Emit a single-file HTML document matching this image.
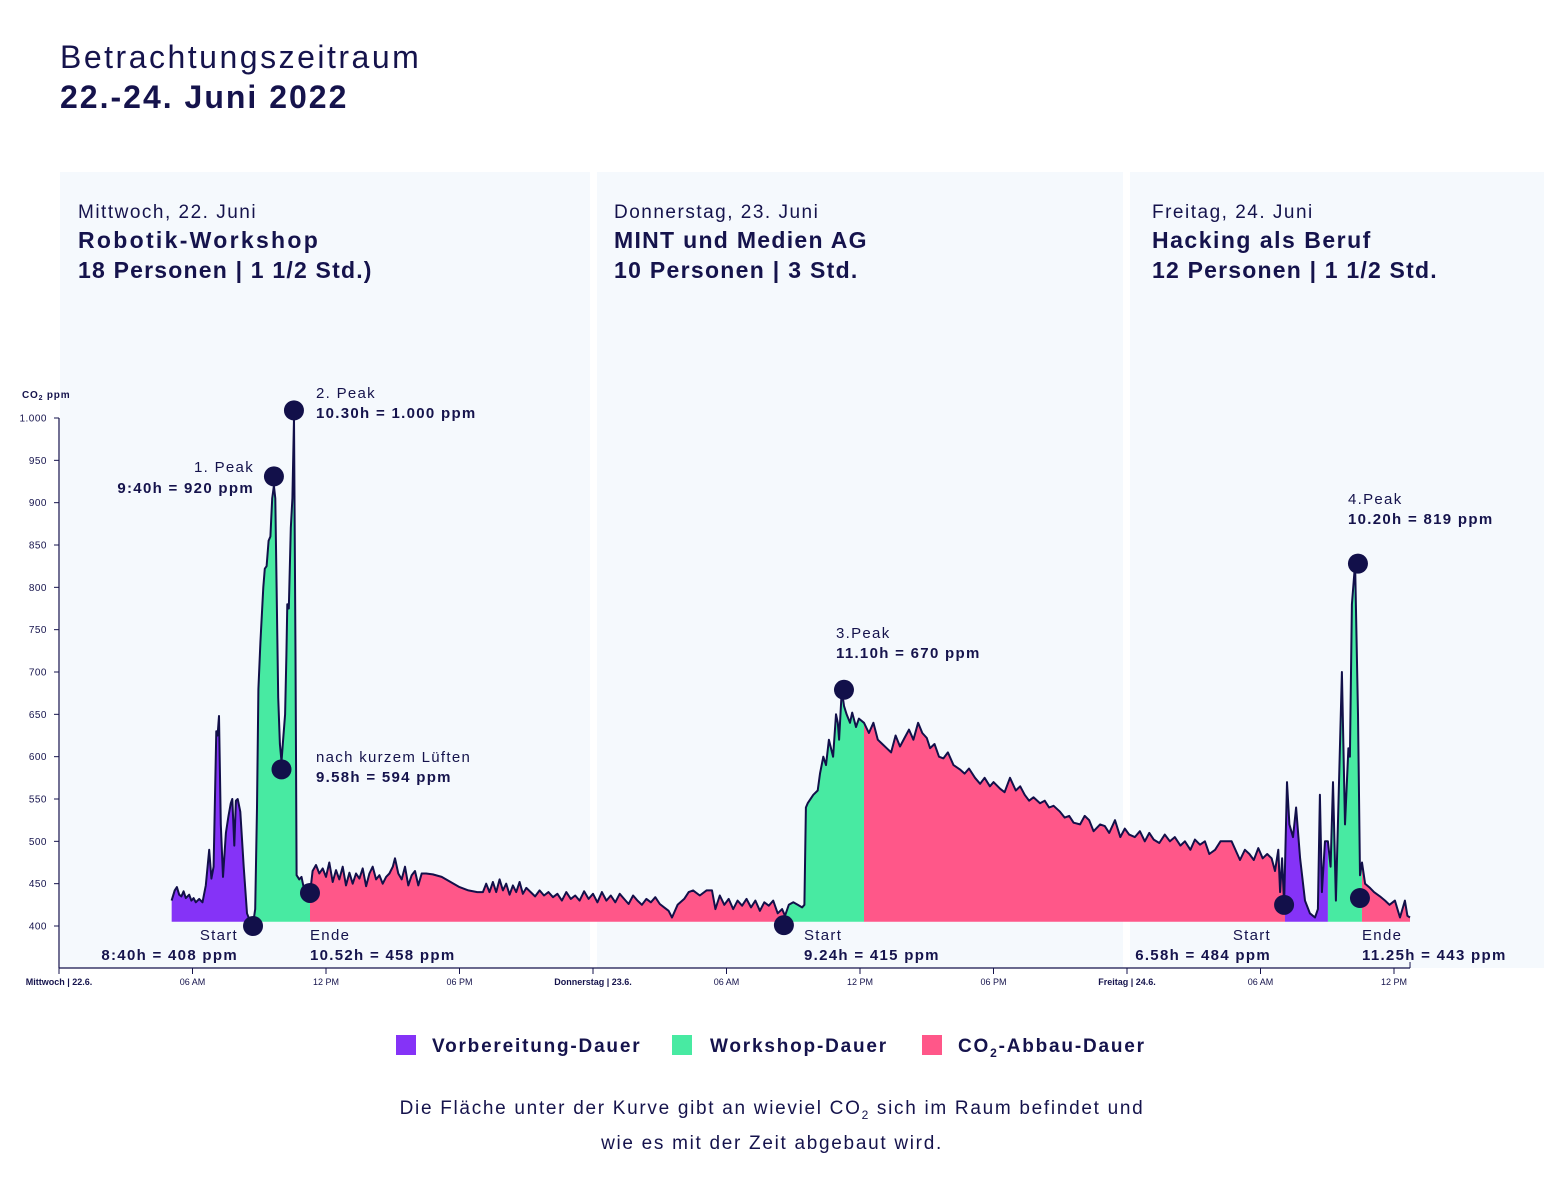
<!DOCTYPE html>
<html><head><meta charset="utf-8">
<style>
html,body{margin:0;padding:0;background:#fff;}
svg{display:block;font-family:"Liberation Sans","DejaVu Sans",sans-serif;}
</style></head>
<body>
<svg id="chart" width="1544" height="1200" viewBox="0 0 1544 1200" xmlns="http://www.w3.org/2000/svg">
  <rect x="0" y="0" width="1544" height="1200" fill="#ffffff"/>
  <text x="60" y="68" font-size="32" letter-spacing="2.5" fill="#15134c">Betrachtungszeitraum</text>
  <text x="60" y="108" font-size="32" letter-spacing="2" font-weight="bold" fill="#15134c">22.-24. Juni 2022</text>
  <rect x="60" y="172" width="530" height="796" fill="#f5f9fd"/>
  <rect x="597" y="172" width="526" height="796" fill="#f5f9fd"/>
  <rect x="1130" y="172" width="414" height="796" fill="#f5f9fd"/>
  <g fill="#15134c" letter-spacing="1.5">
    <text x="78" y="218" font-size="19">Mittwoch, 22. Juni</text>
    <text x="78" y="248" font-size="23" font-weight="bold" letter-spacing="2.3">Robotik-Workshop</text>
    <text x="78" y="278" font-size="23" font-weight="bold" letter-spacing="1.2">18 Personen | 1  1/2 Std.)</text>
    <text x="614" y="218" font-size="19">Donnerstag, 23. Juni</text>
    <text x="614" y="248" font-size="23" font-weight="bold" letter-spacing="1.3">MINT und Medien AG</text>
    <text x="614" y="278" font-size="23" font-weight="bold" letter-spacing="1.3">10 Personen | 3 Std.</text>
    <text x="1152" y="218" font-size="19">Freitag, 24. Juni</text>
    <text x="1152" y="248" font-size="23" font-weight="bold">Hacking als Beruf</text>
    <text x="1152" y="278" font-size="23" font-weight="bold" letter-spacing="1.2">12 Personen | 1  1/2 Std.</text>
  </g>
  <defs id="defs"></defs>
  <g id="areas"></g>
  <g id="axes"></g>
  <g id="marks"></g>
  <g fill="#15134c" font-size="15" letter-spacing="1.3">
    <text x="254" y="472" text-anchor="end">1. Peak</text>
    <text x="254" y="493" text-anchor="end" font-weight="bold">9:40h = 920 ppm</text>
    <text x="316" y="398">2. Peak</text>
    <text x="316" y="418" font-weight="bold">10.30h = 1.000 ppm</text>
    <text x="316" y="762">nach kurzem Lüften</text>
    <text x="316" y="782" font-weight="bold">9.58h = 594 ppm</text>
    <text x="238" y="940" text-anchor="end">Start</text>
    <text x="238" y="960" text-anchor="end" font-weight="bold">8:40h = 408 ppm</text>
    <text x="310" y="940">Ende</text>
    <text x="310" y="960" font-weight="bold">10.52h = 458 ppm</text>
    <text x="804" y="940">Start</text>
    <text x="804" y="960" font-weight="bold">9.24h = 415 ppm</text>
    <text x="836" y="638">3.Peak</text>
    <text x="836" y="658" font-weight="bold">11.10h = 670 ppm</text>
    <text x="1271" y="940" text-anchor="end">Start</text>
    <text x="1271" y="960" text-anchor="end" font-weight="bold">6.58h = 484 ppm</text>
    <text x="1362" y="940">Ende</text>
    <text x="1362" y="960" font-weight="bold">11.25h = 443 ppm</text>
    <text x="1348" y="504">4.Peak</text>
    <text x="1348" y="524" font-weight="bold">10.20h = 819 ppm</text>
  </g>
  <g fill="#15134c" font-size="19" font-weight="bold" letter-spacing="1.8">
    <rect x="396" y="1035" width="20" height="20" fill="#8533f7"/>
    <text x="432" y="1052">Vorbereitung-Dauer</text>
    <rect x="672" y="1035" width="20" height="20" fill="#48eaa2"/>
    <text x="710" y="1052">Workshop-Dauer</text>
    <rect x="922" y="1035" width="20" height="20" fill="#ff5789"/>
    <text x="958" y="1052">CO<tspan font-size="12" dy="5">2</tspan><tspan dy="-5">-Abbau-Dauer</tspan></text>
  </g>
  <g fill="#15134c" font-size="19" text-anchor="middle" letter-spacing="1.7">
    <text x="772" y="1114">Die Fläche unter der Kurve gibt an wieviel CO<tspan font-size="12" dy="5">2</tspan><tspan dy="-5"> sich im Raum befindet und</tspan></text>
    <text x="772" y="1149">wie es mit der Zeit abgebaut wird.</text>
  </g>
</svg>
<script>
// hours since Wed 22.6. 00:00 (rows of 10)
const hours = [
5.06,5.2,5.3,5.4,5.5,5.6,5.7,5.85,5.95,6.05,
6.15,6.3,6.45,6.6,6.75,6.85,6.95,7.07,7.13,7.19,
7.27,7.37,7.5,7.62,7.72,7.79,7.88,7.95,8.03,8.15,
8.3,8.45,8.6,8.72,8.82,8.9,8.96,9.05,9.18,9.25,
9.33,9.42,9.5,9.58,9.66,9.72,9.78,9.85,9.93,10.0,
10.06,10.16,10.22,10.26,10.33,10.42,10.49,10.56,10.63,10.68,
10.8,10.9,11.0,11.1,11.2,11.28,11.4,11.55,11.7,11.85,
12.0,12.15,12.3,12.45,12.6,12.75,12.9,13.05,13.2,13.35,
13.5,13.65,13.8,13.95,14.1,14.25,14.4,14.55,14.7,14.85,
15.0,15.1,15.25,15.4,15.55,15.7,15.85,16.0,16.15,16.3,
16.5,16.8,17.2,17.6,18.0,18.4,18.8,19.05,19.2,19.35,
19.5,19.65,19.8,19.95,20.1,20.25,20.4,20.55,20.7,20.85,
21.0,21.2,21.4,21.6,21.8,22.0,22.2,22.4,22.6,22.8,
23.0,23.2,23.4,23.6,23.8,24.0,24.2,24.4,24.6,24.8,
25.0,25.2,25.4,25.6,25.8,26.0,26.2,26.4,26.6,26.8,
27.0,27.2,27.4,27.55,27.8,28.1,28.3,28.5,28.8,29.1,
29.35,29.5,29.7,29.9,30.1,30.3,30.5,30.7,30.9,31.1,
31.3,31.5,31.7,31.9,32.1,32.3,32.5,32.63,32.8,33.0,
33.2,33.4,33.5,33.57,33.65,33.9,34.1,34.2,34.35,34.47,
34.6,34.79,34.92,35.0,35.06,35.18,35.28,35.4,35.55,35.65,
35.82,35.95,36.18,36.4,36.6,36.8,37.0,37.2,37.4,37.6,
37.8,38.0,38.2,38.4,38.61,38.8,39.0,39.15,39.35,39.55,
39.75,39.95,40.2,40.49,40.7,40.9,41.17,41.4,41.6,41.84,
42.0,42.3,42.5,42.74,43.0,43.2,43.4,43.6,43.8,44.09,
44.3,44.5,44.7,44.99,45.2,45.4,45.6,45.89,46.1,46.3,
46.5,46.79,47.0,47.2,47.46,47.7,47.9,48.1,48.35,48.58,
48.8,49.0,49.2,49.45,49.7,49.93,50.15,50.4,50.6,50.85,
51.05,51.28,51.5,51.7,51.96,52.2,52.4,52.7,53.08,53.3,
53.5,53.7,53.9,54.1,54.3,54.5,54.65,54.8,54.88,54.97,
55.06,55.19,55.3,55.46,55.6,55.78,56.0,56.22,56.45,56.58,
56.67,56.76,56.9,57.03,57.15,57.26,57.39,57.52,57.66,57.8,
57.95,58.02,58.11,58.25,58.38,58.47,58.56,58.7,58.92,59.1,
59.37,59.6,59.8,60.04,60.27,60.49,60.6,60.72];
const ppm = [
430,442,446,437,435,441,433,437,430,433,
428,432,428,448,490,456,470,630,625,648,
520,458,510,530,545,550,495,548,550,535,
470,415,405,402,420,540,680,735,800,822,
825,855,860,905,920,905,800,670,615,594,
615,650,720,780,775,870,905,1000,720,460,
455,458,445,448,440,438,465,472,462,468,
458,475,452,466,455,470,448,463,450,462,
456,468,447,462,470,455,460,450,458,462,
470,480,462,455,470,448,460,465,448,462,
462,461,458,452,446,442,440,440,450,440,
452,440,455,442,450,437,448,440,452,438,
445,440,435,442,436,440,434,438,430,440,
432,436,430,441,432,438,428,440,430,436,
428,438,432,426,436,430,425,432,428,434,
426,422,418,410,425,432,440,442,436,442,
442,420,436,425,432,420,430,424,432,422,
430,418,428,424,430,415,420,412,425,428,
425,422,425,540,545,555,560,580,600,590,
620,600,650,640,620,679,660,650,640,652,
635,645,640,628,640,620,615,610,605,625,
612,622,632,620,640,628,622,610,615,600,
598,605,590,585,580,586,575,568,575,565,
570,562,558,575,560,565,555,548,552,545,
548,540,542,535,528,530,522,520,530,525,
512,520,518,510,525,505,515,508,505,512,
500,510,502,498,508,500,505,495,500,490,
502,496,500,485,490,500,500,500,478,490,
485,478,492,480,485,480,465,490,440,480,
425,570,520,505,540,480,430,415,410,420,
555,440,500,500,470,570,430,560,700,520,
610,600,780,828,650,460,475,450,445,440,
435,430,425,430,410,430,412,410];
const dayBoundaries = [0,24,48];
const dayLabels = ["Mittwoch | 22.6.","Donnerstag | 23.6.","Freitag | 24.6."];
const hourTickValues = [6,12,18,30,36,42,54,60];
const hourTickLabels = ["06 AM","12 PM","06 PM","06 AM","12 PM","06 PM","06 AM","12 PM"];
const yTicks = [400,450,500,550,600,650,700,750,800,850,900,950,1000];
const yTickLabels = ["400","450","500","550","600","650","700","750","800","850","900","950","1.000"];
const segStart = [5.06,8.72,11.28,32.63,36.18,55.1,57.03,58.56];
const segEnd   = [8.72,11.28,32.63,36.18,55.1,57.03,58.56,60.72];
const segPhase = ["vorbereitung","workshop","abbau","workshop","abbau","vorbereitung","workshop","abbau"];
const markerHours = [8.72,9.66,10.56,10.0,11.28,32.58,35.28,55.06,58.38,58.47];
const markerPpm   = [400,931,1009,585,439,401,679,425,828,433];
const markerNames = ["marker-wed-start","marker-peak-1","marker-peak-2","marker-lueften","marker-wed-end","marker-thu-start","marker-peak-3","marker-fri-start","marker-peak-4","marker-fri-end"];

const NS="http://www.w3.org/2000/svg";
const X0=59, PXH=22.25, Y400=926, PXP=508/600;
function xs(h){return X0+h*PXH;}
function ys(v){return Y400-(v-400)*PXP;}
const colors={vorbereitung:"#8533f7",workshop:"#48eaa2",abbau:"#ff5789"};
function mk(tag,attrs,parent){const e=document.createElementNS(NS,tag);for(const k in attrs)e.setAttribute(k,attrs[k]);parent.appendChild(e);return e;}

const defs=document.getElementById('defs');
const areas=document.getElementById('areas');
const baseY=ys(405);
const n=Math.min(hours.length,ppm.length);
let line="";
for(let i=0;i<n;i++){line+=(i?"L":"M")+xs(hours[i]).toFixed(1)+","+ys(ppm[i]).toFixed(1);}
const areaD=line+"L"+xs(hours[n-1]).toFixed(1)+","+baseY+"L"+xs(hours[0]).toFixed(1)+","+baseY+"Z";
for(let s=0;s<segStart.length;s++){
  const cp=mk('clipPath',{id:'seg'+s},defs);
  mk('rect',{x:xs(segStart[s]),y:0,width:xs(segEnd[s])-xs(segStart[s]),height:1200},cp);
  const p=mk('path',{d:areaD,fill:colors[segPhase[s]],'clip-path':'url(#seg'+s+')'},areas);
  
  
}
const ln=mk('path',{d:line,fill:'none',stroke:'#12104a','stroke-width':2,'stroke-linejoin':'round'},areas);



const axes=document.getElementById('axes');
const yAxis=mk('line',{x1:X0,y1:ys(1000),x2:X0,y2:968,stroke:'#15134c','stroke-width':1.2},axes);


const xAxis=mk('line',{x1:X0,y1:968,x2:xs(60.72),y2:968,stroke:'#15134c','stroke-width':1.2},axes);


mk('line',{x1:xs(60.72),y1:962,x2:xs(60.72),y2:968,stroke:'#15134c','stroke-width':1},axes);
const yt=mk('text',{x:22,y:398,'font-size':10,'font-weight':'bold',fill:'#15134c','letter-spacing':0.8},axes);


yt.innerHTML='CO<tspan font-size="7" dy="2">2</tspan><tspan dy="-2"> ppm</tspan>';
for(let i=0;i<yTicks.length;i++){
  const y=ys(yTicks[i]);
  mk('line',{x1:X0-5,y1:y,x2:X0,y2:y,stroke:'#15134c','stroke-width':1},axes);
  const t=mk('text',{x:X0-12,y:y+3.5,'font-size':10,'text-anchor':'end',fill:'#15134c','letter-spacing':0.5},axes);
  
  
  t.textContent=yTickLabels[i];
}
for(let i=0;i<dayBoundaries.length;i++){
  const x=xs(dayBoundaries[i]);
  mk('line',{x1:x,y1:968,x2:x,y2:974,stroke:'#15134c','stroke-width':1},axes);
  const t=mk('text',{x:x,y:985,'font-size':9,'font-weight':'bold','text-anchor':'middle',fill:'#15134c'},axes);
  
  
  t.textContent=dayLabels[i];
}
for(let i=0;i<hourTickValues.length;i++){
  const x=xs(hourTickValues[i]);
  mk('line',{x1:x,y1:968,x2:x,y2:974,stroke:'#15134c','stroke-width':1},axes);
  const t=mk('text',{x:x,y:985,'font-size':9,'text-anchor':'middle',fill:'#15134c'},axes);
  
  
  t.textContent=hourTickLabels[i];
}
const marks=document.getElementById('marks');
for(let i=0;i<markerHours.length;i++){
  const c=mk('circle',{cx:xs(markerHours[i]),cy:ys(markerPpm[i]),r:10,fill:'#12104a'},marks);
  
  
}
</script>
</body></html>
